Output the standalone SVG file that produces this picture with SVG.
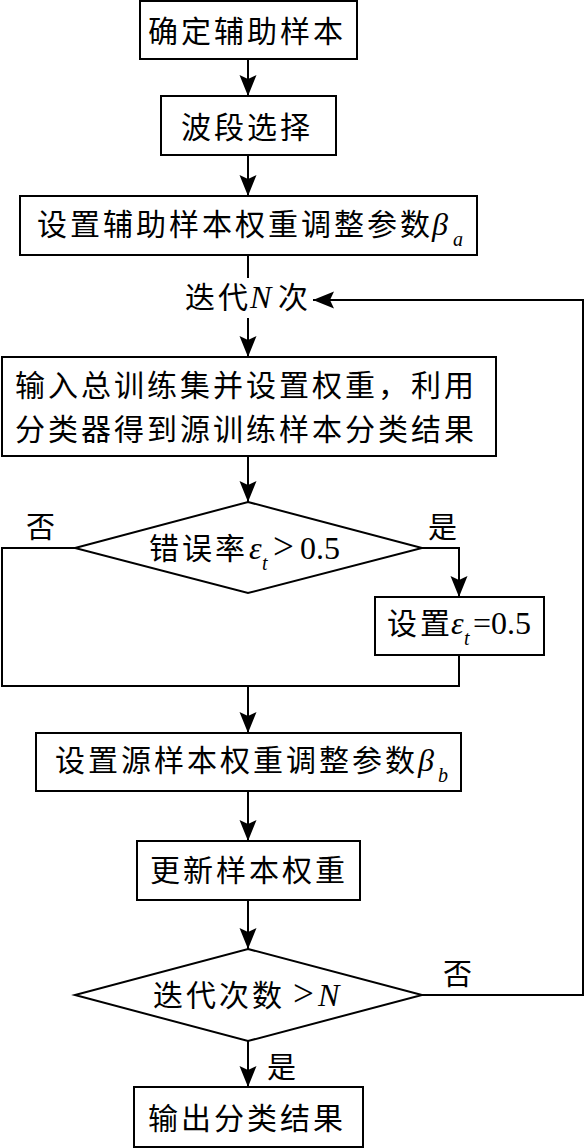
<svg xmlns="http://www.w3.org/2000/svg" width="586" height="1148" viewBox="0 0 586 1148">
<style>
.box{fill:#fff;stroke:#000;stroke-width:2}
.ln{fill:none;stroke:#000;stroke-width:2}
.arr{marker-end:url(#ah)}
.cj{font-family:"Noto Sans CJK SC","Liberation Serif",serif;font-size:30px;letter-spacing:3px;fill:#000}
.lb{font-family:"Noto Sans CJK SC","Liberation Serif",serif;font-size:29px;fill:#000}
.m{font-family:"Liberation Serif",serif;font-size:32px;fill:#000}
.gt{font-family:"Liberation Serif",serif;font-size:37px;fill:#000}
.mi{font-family:"Liberation Serif",serif;font-size:32px;font-style:italic;fill:#000}
.sub{font-family:"Liberation Serif",serif;font-size:20px;font-style:italic;fill:#000}
</style>
<defs>
<marker id="ah" markerUnits="userSpaceOnUse" markerWidth="24" markerHeight="20" viewBox="-22 -10 24 20" refX="0" refY="0" orient="auto">
<path d="M0,0 L-21,-8.5 L-17,0 L-21,8.5 Z" fill="#000"/>
</marker>
</defs>
<g id="connectors">
<path class="ln arr" d="M248,59 V96"/>
<path class="ln arr" d="M248,155 V196"/>
<path class="ln" d="M248,255 V278"/>
<path class="ln arr" d="M248,318 V357"/>
<path class="ln arr" d="M422,995 H583 V300 H313"/>
<path class="ln arr" d="M248,456 V502"/>
<path class="ln arr" d="M422,548 H459 V597"/>
<path class="ln" d="M75,548 H2 V686 H459 V655"/>
<path class="ln arr" d="M248,686 V733"/>
<path class="ln arr" d="M248,791 V841"/>
<path class="ln arr" d="M248,900 V949"/>
<path class="ln arr" d="M248,1041 V1087"/>
</g>
<g id="n1">
<rect class="box" x="140" y="1" width="217" height="58"/>
<text class="cj" x="148" y="42">确定辅助样本</text>
</g>
<g id="n2">
<rect class="box" x="161" y="96" width="175" height="59"/>
<text class="cj" x="181" y="138">波段选择</text>
</g>
<g id="n3">
<rect class="box" x="20" y="196" width="457" height="59"/>
<text class="cj" x="37" y="235">设置辅助样本权重调整参数</text>
<text class="mi" x="432" y="235">β</text>
<text class="sub" x="453" y="246">a</text>
</g>
<g id="loop-label">
<text class="cj" x="185" y="308" letter-spacing="0">迭代</text>
<text class="mi" x="250" y="308">N</text>
<text class="cj" x="278" y="308">次</text>
</g>
<g id="n4">
<rect class="box" x="2" y="357" width="494" height="99"/>
<text class="cj" x="15" y="396">输入总训练集并设置权重，利用</text>
<text class="cj" x="15" y="440">分类器得到源训练样本分类结果</text>
</g>
<g id="d1">
<polygon class="box" points="248,502 422,548 248,593 75,548"/>
<text class="cj" x="149" y="559">错误率</text>
<text class="mi" x="249" y="559">ε</text>
<text class="sub" x="262" y="570">t</text>
<text class="gt" x="273" y="559">&gt;</text>
<text class="m" x="300" y="559">0.5</text>
<text class="lb" x="26" y="538">否</text>
<text class="lb" x="428" y="538">是</text>
</g>
<g id="n5">
<rect class="box" x="375" y="597" width="169" height="58"/>
<text class="cj" x="387" y="634" letter-spacing="0">设置</text>
<text class="mi" x="451" y="634">ε</text>
<text class="sub" x="464" y="645">t</text>
<text class="m" x="473" y="634">=0.5</text>
</g>
<g id="n6">
<rect class="box" x="36" y="733" width="425" height="58"/>
<text class="cj" x="55" y="771">设置源样本权重调整参数</text>
<text class="mi" x="418" y="771">β</text>
<text class="sub" x="438" y="782">b</text>
</g>
<g id="n7">
<rect class="box" x="137" y="841" width="223" height="59"/>
<text class="cj" x="150" y="881">更新样本权重</text>
</g>
<g id="d2">
<polygon class="box" points="248,949 422,995 248,1041 75,995"/>
<text class="cj" x="153" y="1006" letter-spacing="4">迭代次数</text>
<text class="gt" x="293" y="1006">&gt;</text>
<text class="mi" x="318" y="1006">N</text>
<text class="lb" x="443" y="985">否</text>
<text class="lb" x="267" y="1078">是</text>
</g>
<g id="n8">
<rect class="box" x="134" y="1087" width="229" height="60"/>
<text class="cj" x="148" y="1129">输出分类结果</text>
</g>
</svg>
